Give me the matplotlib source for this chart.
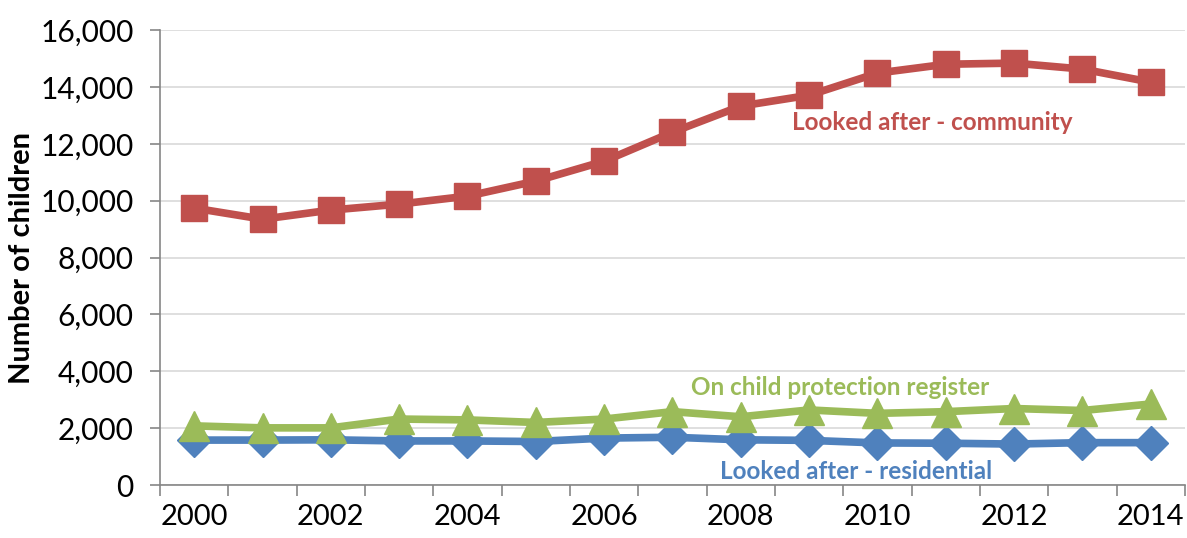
import numpy as np
import matplotlib
matplotlib.use("Agg")
import matplotlib.pyplot as plt
from matplotlib.ticker import FuncFormatter, FixedLocator

years = list(range(2000, 2015))
community = [9740, 9350, 9670, 9880, 10160, 10690, 11390, 12410, 13330, 13710,
             14490, 14800, 14840, 14630, 14170]
register = [2080, 2010, 2010, 2320, 2290, 2200, 2320, 2580, 2400, 2640,
            2520, 2580, 2690, 2620, 2850]
residential = [1580, 1580, 1590, 1550, 1550, 1530, 1650, 1680, 1590, 1570,
               1480, 1470, 1440, 1490, 1490]
tick_years = years[::2]

red, green, blue = "#C0504D", "#9BBB59", "#4F81BD"

plt.rcParams['font.family'] = ['Lato', 'DejaVu Sans']

fig = plt.figure(figsize=(11.87, 5.38), dpi=100)
ax = fig.add_axes([0.1348, 0.0985, 0.8635, 0.8455])

x = np.arange(len(years))
ax.plot(x, community, color=red, lw=5.5, marker='s', ms=19, zorder=3)
ax.plot(x, residential, color=blue, lw=5.5, marker='D', ms=17, zorder=3)
ax.plot(x, register, color=green, lw=5.5, marker='^', ms=21, zorder=4)

ax.set_xlim(-0.5, len(years) - 0.5)
ax.set_ylim(0, 16000)
ax.set_yticks(np.arange(0, 16001, 2000))
ax.yaxis.set_major_formatter(FuncFormatter(lambda v, p: f"{int(v):,}"))
ax.grid(axis='y', color='#D9D9D9', lw=1.2, zorder=0)

# category axis: labels every other year, ticks between categories
ax.set_xticks([years.index(y) for y in tick_years])
ax.set_xticklabels([str(y) for y in tick_years])
ax.xaxis.set_minor_locator(FixedLocator(np.arange(-0.5, len(years), 1)))
ax.tick_params(axis='x', which='major', length=0, pad=14, labelsize=21)
ax.tick_params(axis='x', which='minor', length=8, color='#868686', width=1.2)
ax.tick_params(axis='y', length=7, color='#868686', width=1.2, labelsize=21.5, pad=12)

for s in ['top', 'right']:
    ax.spines[s].set_visible(False)
for s in ['left', 'bottom']:
    ax.spines[s].set_color('#868686')
    ax.spines[s].set_linewidth(1.2)

ax.set_ylabel("Number of children", fontsize=21, fontweight='bold', labelpad=4)

ax.text(10.8, 12750, "Looked after - community", color=red, fontsize=17.5,
        fontweight='bold', ha='center', va='center')
ax.text(9.45, 3420, "On child protection register", color=green, fontsize=17.5,
        fontweight='bold', ha='center', va='center')
ax.text(9.68, 480, "Looked after - residential", color=blue, fontsize=17.5,
        fontweight='bold', ha='center', va='center')

fig.savefig("out.png", dpi=100)
